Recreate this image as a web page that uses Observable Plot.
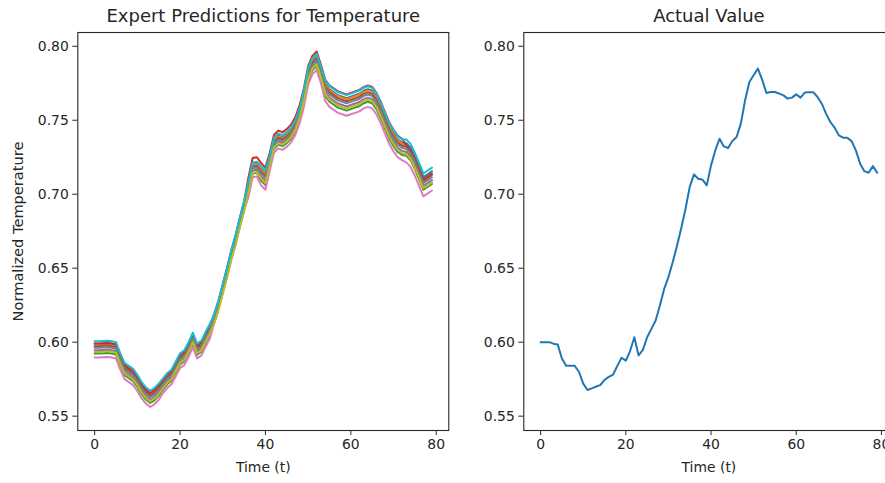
<!DOCTYPE html>
<html><head><meta charset="utf-8">
<script src="https://cdn.jsdelivr.net/npm/d3@7"></script>
<script src="https://cdn.jsdelivr.net/npm/@observablehq/plot@0.6"></script>
<style>
html,body{margin:0;padding:0;background:#fff;}
#wrap{position:relative;width:885px;height:483px;overflow:hidden;background:#fff;}
#left{position:absolute;left:0;top:0;width:460px;height:483px;}
#right{position:absolute;left:460px;top:0;width:446px;height:483px;}
#wrap svg{max-width:none !important;}
</style></head><body><div id="wrap"><div id="left"></div><div id="right"></div></div>
<script>
// ---- data ----
const xTicks = [0, 20, 40, 60, 80];
const yTicks = [0.55, 0.60, 0.65, 0.70, 0.75, 0.80];
const leftTitle = "Expert Predictions for Temperature";
const rightTitle = "Actual Value";
const xLabel = "Time (t)";
const yLabel = "Normalized Temperature";

const expertBlue = [.5989,.5989,.5991,.5993,.5989,.5983,.5907,.5843,.5823,.5803,
 .5763,.5713,.5678,.5655,.5673,.5703,.5740,.5775,.5800,.5855,
 .5910,.5930,.5985,.6050,.5975,.5995,.6055,.6110,.6181,.6271,
 .6381,.6491,.6611,.6711,.6831,.6941,.7065,.7200,.7205,.7170,
 .7140,.7245,.7365,.7395,.7385,.7405,.7435,.7485,.7565,.7683,
 .7833,.7903,.7933,.7843,.7749,.7709,.7689,.7669,.7659,.7649,
 .7659,.7669,.7679,.7699,.7709,.7699,.7659,.7599,.7529,.7459,
 .7409,.7369,.7349,.7345,.7315,.7255,.7185,.7115,.7135,.7155];
const expertOrange = [.5984,.5984,.5986,.5988,.5984,.5978,.5902,.5838,.5818,.5798,
 .5758,.5708,.5673,.5650,.5668,.5698,.5735,.5770,.5795,.5850,
 .5905,.5925,.5980,.6045,.5970,.5990,.6050,.6105,.6178,.6268,
 .6378,.6488,.6608,.6708,.6828,.6938,.7060,.7195,.7200,.7164,
 .7134,.7240,.7360,.7390,.7380,.7400,.7430,.7480,.7560,.7678,
 .7828,.7898,.7928,.7838,.7742,.7702,.7682,.7662,.7652,.7642,
 .7652,.7662,.7672,.7692,.7702,.7692,.7652,.7592,.7522,.7452,
 .7402,.7362,.7342,.7330,.7300,.7240,.7170,.7100,.7120,.7140];
const expertGreen = [.5923,.5923,.5925,.5927,.5923,.5917,.5841,.5777,.5757,.5737,
 .5697,.5647,.5612,.5589,.5607,.5637,.5680,.5715,.5740,.5795,
 .5850,.5870,.5925,.5990,.5915,.5935,.5995,.6050,.6145,.6235,
 .6345,.6455,.6575,.6675,.6795,.6905,.7005,.7140,.7145,.7092,
 .7062,.7185,.7305,.7335,.7325,.7345,.7375,.7425,.7505,.7617,
 .7767,.7837,.7867,.7777,.7665,.7625,.7605,.7585,.7575,.7565,
 .7575,.7585,.7595,.7615,.7625,.7615,.7575,.7515,.7445,.7375,
 .7325,.7285,.7265,.7260,.7230,.7170,.7100,.7030,.7050,.7070];
const expertRed = [.5991,.5991,.5993,.5995,.5991,.5985,.5909,.5845,.5825,.5805,
 .5765,.5715,.5680,.5657,.5675,.5705,.5743,.5778,.5803,.5858,
 .5913,.5933,.5988,.6053,.5978,.5998,.6058,.6113,.6190,.6280,
 .6390,.6500,.6620,.6720,.6840,.6950,.7110,.7245,.7250,.7210,
 .7180,.7280,.7400,.7430,.7420,.7440,.7470,.7520,.7600,.7715,
 .7865,.7935,.7965,.7875,.7775,.7735,.7715,.7695,.7685,.7675,
 .7685,.7695,.7705,.7725,.7735,.7725,.7685,.7625,.7555,.7485,
 .7435,.7395,.7375,.7330,.7300,.7240,.7170,.7100,.7120,.7140];
const expertPurple = [.5945,.5945,.5947,.5949,.5945,.5939,.5863,.5799,.5779,.5759,
 .5719,.5669,.5634,.5611,.5629,.5659,.5700,.5735,.5760,.5815,
 .5870,.5890,.5945,.6010,.5935,.5955,.6015,.6070,.6157,.6247,
 .6357,.6467,.6587,.6687,.6807,.6917,.7025,.7160,.7165,.7118,
 .7088,.7205,.7325,.7355,.7345,.7365,.7395,.7445,.7525,.7639,
 .7789,.7859,.7889,.7799,.7693,.7653,.7633,.7613,.7603,.7593,
 .7603,.7613,.7623,.7643,.7653,.7643,.7603,.7543,.7473,.7403,
 .7353,.7313,.7293,.7285,.7255,.7195,.7125,.7055,.7075,.7095];
const expertBrown = [.5973,.5973,.5975,.5977,.5973,.5967,.5891,.5827,.5807,.5787,
 .5747,.5697,.5662,.5639,.5657,.5687,.5725,.5760,.5785,.5840,
 .5895,.5915,.5970,.6035,.5960,.5980,.6040,.6095,.6172,.6262,
 .6372,.6482,.6602,.6702,.6822,.6932,.7050,.7185,.7190,.7151,
 .7121,.7230,.7350,.7380,.7370,.7390,.7420,.7470,.7550,.7667,
 .7817,.7887,.7917,.7827,.7728,.7688,.7668,.7648,.7638,.7628,
 .7638,.7648,.7658,.7678,.7688,.7678,.7638,.7578,.7508,.7438,
 .7388,.7348,.7328,.7320,.7290,.7230,.7160,.7090,.7110,.7130];
const expertPink = [.5896,.5896,.5898,.5900,.5896,.5890,.5814,.5750,.5730,.5710,
 .5670,.5620,.5585,.5562,.5580,.5610,.5655,.5690,.5715,.5770,
 .5825,.5845,.5900,.5965,.5890,.5910,.5970,.6025,.6130,.6220,
 .6330,.6440,.6560,.6660,.6780,.6890,.6980,.7115,.7120,.7060,
 .7030,.7160,.7280,.7310,.7300,.7320,.7350,.7400,.7480,.7590,
 .7740,.7810,.7840,.7750,.7630,.7590,.7570,.7550,.7540,.7530,
 .7540,.7550,.7560,.7580,.7590,.7580,.7540,.7480,.7410,.7340,
 .7290,.7250,.7230,.7215,.7185,.7125,.7055,.6985,.7005,.7025];
const expertGray = [.5962,.5962,.5964,.5966,.5962,.5956,.5880,.5816,.5796,.5776,
 .5736,.5686,.5651,.5628,.5646,.5676,.5715,.5750,.5775,.5830,
 .5885,.5905,.5960,.6025,.5950,.5970,.6030,.6085,.6166,.6256,
 .6366,.6476,.6596,.6696,.6816,.6926,.7040,.7175,.7180,.7138,
 .7108,.7220,.7340,.7370,.7360,.7380,.7410,.7460,.7540,.7656,
 .7806,.7876,.7906,.7816,.7714,.7674,.7654,.7634,.7624,.7614,
 .7624,.7634,.7644,.7664,.7674,.7664,.7624,.7564,.7494,.7424,
 .7374,.7334,.7314,.7305,.7275,.7215,.7145,.7075,.7095,.7115];
const expertOlive = [.5934,.5934,.5936,.5938,.5934,.5928,.5852,.5788,.5768,.5748,
 .5708,.5658,.5623,.5600,.5618,.5648,.5690,.5725,.5750,.5805,
 .5860,.5880,.5935,.6000,.5925,.5945,.6005,.6060,.6125,.6215,
 .6325,.6435,.6555,.6655,.6775,.6885,.7010,.7145,.7150,.7105,
 .7075,.7195,.7315,.7345,.7335,.7355,.7385,.7435,.7515,.7628,
 .7778,.7848,.7878,.7788,.7679,.7639,.7619,.7599,.7589,.7579,
 .7589,.7599,.7609,.7629,.7639,.7629,.7589,.7529,.7459,.7389,
 .7339,.7299,.7279,.7270,.7240,.7180,.7110,.7040,.7060,.7080];
const expertCyan = [.6006,.6006,.6008,.6010,.6006,.6000,.5924,.5860,.5840,.5820,
 .5780,.5730,.5695,.5672,.5690,.5720,.5755,.5790,.5815,.5870,
 .5925,.5945,.6000,.6065,.5990,.6010,.6070,.6125,.6190,.6280,
 .6390,.6500,.6620,.6720,.6840,.6950,.7080,.7215,.7220,.7190,
 .7160,.7260,.7380,.7410,.7400,.7420,.7450,.7500,.7580,.7700,
 .7850,.7920,.7950,.7860,.7770,.7730,.7710,.7690,.7680,.7670,
 .7680,.7690,.7700,.7720,.7730,.7720,.7680,.7620,.7550,.7480,
 .7430,.7390,.7370,.7370,.7340,.7280,.7210,.7140,.7160,.7180];

const actualValue = [0.600,0.600,0.600,0.599,0.5985,0.589,0.584,0.584,0.584,0.580,
 0.572,0.5677,0.5688,0.570,0.571,0.5745,0.5765,0.578,0.584,0.5895,
 0.5875,0.594,0.6033,0.591,0.5948,0.6033,0.609,0.6146,0.6248,0.636,
 0.644,0.654,0.665,0.677,0.690,0.705,0.7134,0.7105,0.7098,0.706,
 0.7195,0.7296,0.7375,0.7323,0.7312,0.7359,0.7387,0.7477,0.7635,0.7759,
 0.7804,0.7849,0.7775,0.7684,0.7691,0.7691,0.768,0.7668,0.7646,0.7653,
 0.7675,0.7653,0.7687,0.769,0.769,0.7657,0.7612,0.7545,0.7488,0.745,
 0.7398,0.7382,0.7382,0.7359,0.7296,0.7206,0.7156,0.7145,0.719,0.7145];

// draw order = matplotlib tab10 cycle
const experts = [
  {color: "#1f77b4", values: expertBlue},
  {color: "#ff7f0e", values: expertOrange},
  {color: "#2ca02c", values: expertGreen},
  {color: "#d62728", values: expertRed},
  {color: "#9467bd", values: expertPurple},
  {color: "#8c564b", values: expertBrown},
  {color: "#e377c2", values: expertPink},
  {color: "#7f7f7f", values: expertGray},
  {color: "#bcbd22", values: expertOlive},
  {color: "#17becf", values: expertCyan}
];

const FONT = "'DejaVu Sans', sans-serif";
const TXT = "#262626";

function panel({width, marginLeft, marginRight, title, ylab, marks}) {
  return Plot.plot({
    width, height: 483, marginLeft, marginRight, marginTop: 32, marginBottom: 53,
    style: {fontFamily: FONT, fontSize: "13.9px", color: TXT, background: "white", overflow: "visible", maxWidth: "none"},
    x: {domain: [-3.95, 82.95]},
    y: {domain: [0.5403, 0.8093]},
    marks: [
      ...marks,
      Plot.frame({stroke: "#262626", strokeWidth: 1.1}),
      Plot.axisX({ticks: xTicks, tickSize: 5, tickPadding: 4, tickFormat: d => String(d), label: null, fontSize: 13.9}),
      Plot.axisY({ticks: yTicks, tickSize: 5, tickPadding: 4, tickFormat: d3.format(".2f"), label: null, fontSize: 13.9}),
      Plot.text([title], {text: d => d, frameAnchor: "top", lineAnchor: "middle", dy: -16, fontSize: 18, fill: TXT}),
      Plot.text([xLabel], {text: d => d, frameAnchor: "bottom", lineAnchor: "middle", dy: 37, fontSize: 13.9, fill: TXT}),
      ylab ? Plot.text([ylab], {text: d => d, frameAnchor: "left", textAnchor: "middle", lineAnchor: "middle", dx: -59, rotate: -90, fontSize: 14.6, fill: TXT}) : null
    ]
  });
}

const expertMarks = experts.map(e =>
  Plot.line(e.values, {x: (d, i) => i, y: d => d, stroke: e.color, strokeWidth: 2, curve: "linear"})
);

document.getElementById("left").append(panel({
  width: 460, marginLeft: 77.3, marginRight: 11.7, title: leftTitle, ylab: yLabel, marks: expertMarks
}));

document.getElementById("right").append(panel({
  width: 446, marginLeft: 63.3, marginRight: 12.5, title: rightTitle, ylab: null,
  marks: [Plot.line(actualValue, {x: (d, i) => i, y: d => d, stroke: "#1f77b4", strokeWidth: 2})]
}));
</script></body></html>
